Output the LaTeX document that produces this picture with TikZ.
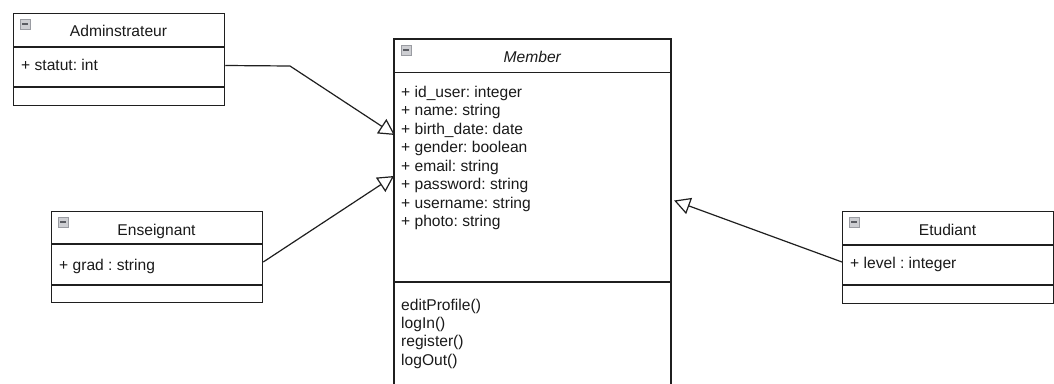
\documentclass[tikz,border=0pt]{standalone}
\usepackage{fontspec}
\setmainfont{Liberation Sans}
\usetikzlibrary{arrows.meta,calc}
\frenchspacing

\definecolor{umlline}{HTML}{1F1F1F}
\definecolor{umltext}{HTML}{1A1A1A}
\definecolor{iconfill}{HTML}{CDCED2}
\definecolor{iconedge}{HTML}{9A9CA2}
\definecolor{iconbar}{HTML}{5A5C62}

\tikzset{
  classbox/.style={draw=umlline, line width=1.25pt, rectangle, inner sep=0pt, anchor=north west},
  sepline/.style={draw=umlline, line width=1.25pt},
  txt/.style={inner sep=0pt, text=umltext, font=\fontsize{15.6}{18.6}\selectfont},
  title/.style={txt, anchor=base},
  member/.style={txt, anchor=base west},
  inherit/.style={draw=umlline, line width=1.2pt,
    -{Triangle[open, length=16pt, width=17pt, fill=white]}},
  foldicon/.style={draw=iconedge, fill=iconfill, line width=0.6pt}
}

% collapse icon drawn in the top-left corner of a class header
\newcommand{\foldmark}[1]{%
  \draw[foldicon] ($(#1.north west)+(7,6)$) rectangle ($(#1.north west)+(17,16)$);
  \draw[draw=iconbar, line width=1.6pt] ($(#1.north west)+(9,11)$) -- ($(#1.north west)+(15,11)$);
}

\begin{document}
\begin{tikzpicture}[x=1pt, y=-1pt]
  \useasboundingbox (0,0) rectangle (1054,383);
  \fill[white] (0,0) rectangle (1054,383);

  % ---- Adminstrateur ----
  \node[classbox, minimum width=211pt, minimum height=92pt] (admin) at (13,13) {};
  \draw[sepline] (13,47) -- (224,47);
  \draw[sepline] (13,87) -- (224,87);
  \foldmark{admin}
  \node[title] (adminname) at (118.5,36.7) {Adminstrateur};
  \node[member] (adminattr) at (21,70.5) {+ statut: int};

  % ---- Member (runs past the lower edge) ----
  \node[inner sep=0pt, anchor=north west, minimum width=276.7pt, minimum height=350pt] (member) at (394,39) {};
  \draw[sepline] (member.south west) -- (member.north west) -- (member.north east) -- (member.south east);
  \draw[sepline] (394,72.7) -- (670.7,72.7);
  \draw[sepline] (394,282) -- (670.7,282);
  \foldmark{member}
  \node[title, font=\fontsize{15.6}{18.6}\selectfont\itshape] (membername) at (532.3,62.3) {Member};
  \node[member] (m1) at (401,97.3) {+ id\_user: integer};
  \node[member] (m2) at (401,115.8) {+ name: string};
  \node[member] (m3) at (401,134.3) {+ birth\_date: date};
  \node[member] (m4) at (401,152.8) {+ gender: boolean};
  \node[member] (m5) at (401,171.3) {+ email: string};
  \node[member] (m6) at (401,189.8) {+ password: string};
  \node[member] (m7) at (401,208.3) {+ username: string};
  \node[member] (m8) at (401,226.8) {+ photo: string};
  \node[member] (op1) at (401,310.3) {editProfile()};
  \node[member] (op2) at (401,328.6) {logIn()};
  \node[member] (op3) at (401,346.9) {register()};
  \node[member] (op4) at (401,365.2) {logOut()};

  % ---- Enseignant ----
  \node[classbox, minimum width=211pt, minimum height=91pt] (ens) at (51,211) {};
  \draw[sepline] (51,244) -- (262,244);
  \draw[sepline] (51,285) -- (262,285);
  \foldmark{ens}
  \node[title] (ensname) at (156.5,235) {Enseignant};
  \node[member] (ensattr) at (59,270) {+ grad : string};

  % ---- Etudiant ----
  \node[classbox, minimum width=211pt, minimum height=92pt] (etu) at (842,211) {};
  \draw[sepline] (842,245) -- (1053,245);
  \draw[sepline] (842,285) -- (1053,285);
  \foldmark{etu}
  \node[title] (etuname) at (947.5,235) {Etudiant};
  \node[member] (etuattr) at (850,268.3) {+ level : integer};

  % ---- generalisation arrows ----
  \coordinate (adminbend) at (290,66);
  \draw[inherit] ($(admin.north east)+(0,52.5)$) -- (adminbend) -- ($(member.north west)+(1,96)$);
  \draw[inherit] ($(ens.north east)+(0,51)$) -- ($(member.north west)+(0,137)$);
  \draw[inherit] ($(etu.north west)+(0,51)$) -- ($(member.north east)+(3,161.5)$);
\end{tikzpicture}
\end{document}
